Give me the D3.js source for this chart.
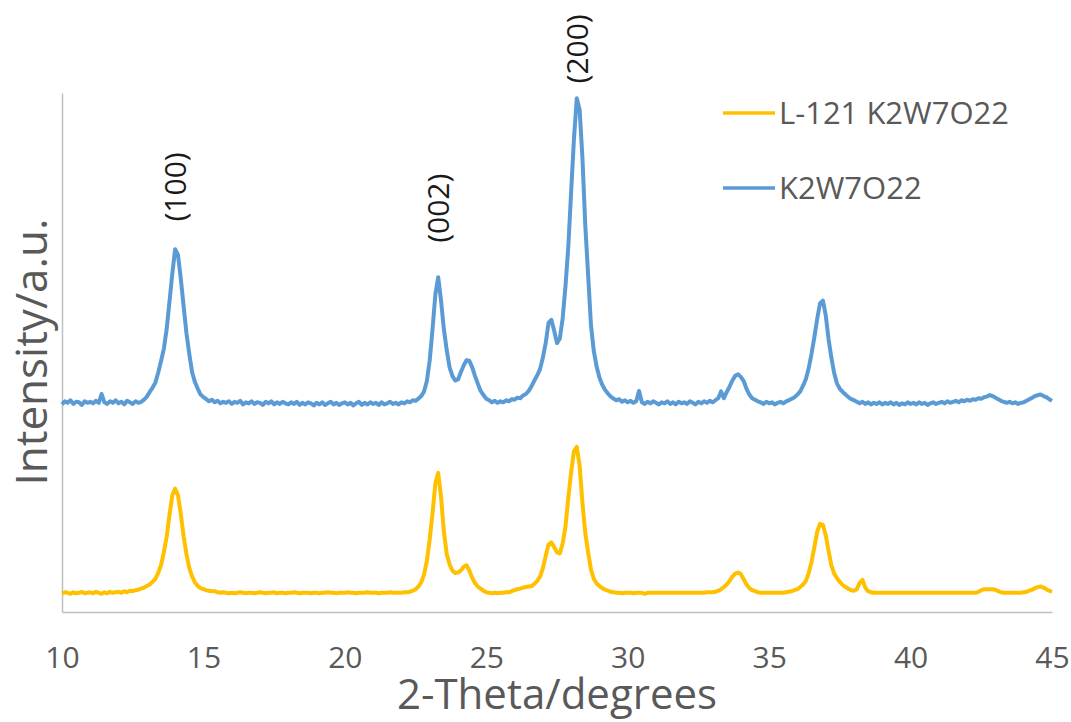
<!DOCTYPE html>
<meta charset="utf-8">
<head>
  <title>XRD patterns</title>
</head>

<style>
  body {
    margin: 0;
    background: #fff;
    font-family: "Open Sans", "Liberation Sans", sans-serif;
  }
  .axis path { stroke: #bfbfbf; stroke-width: 1.5px; }
  .axis text { font-family: "Open Sans", sans-serif; font-size: 30px; fill: #595959; }
</style>

<body>
<svg id="chart" width="1071" height="722"></svg>

<script src="https://cdnjs.cloudflare.com/ajax/libs/d3/7.8.5/d3.min.js"></script>
<script>
  // scan grid: 2-theta from 10 to 45 degrees, one reading every 0.1 degree
  var thetaStart = 10;
  var thetaStep = 0.1;

  var xTicks = [10, 15, 20, 25, 30, 35, 40, 45];

  // K2W7O22 (blue, upper trace)
  var pristineCounts = [
    400, 406, 403, 408, 401, 405, 404, 399, 406, 403,   // 10
    405, 402, 407, 403, 420, 404, 401, 406, 403, 408,   // 11
    402, 405, 400, 407, 404, 401, 406, 403, 405, 409,   // 12
    415, 424, 432, 442, 461, 483, 507, 545, 598, 652,   // 13
    699, 688, 642, 589, 537, 497, 462, 443, 430, 419,   // 14
    414, 410, 406, 409, 404, 407, 402, 405, 403, 406,   // 15
    401, 405, 403, 407, 400, 404, 402, 406, 401, 404,   // 16
    403, 399, 405, 402, 406, 400, 404, 401, 405, 402,   // 17
    400, 404, 401, 405, 399, 403, 400, 404, 402, 398,   // 18
    403, 400, 404, 399, 402, 405, 400, 403, 399, 402,   // 19
    404, 400, 403, 398, 402, 405, 399, 403, 400, 404,   // 20
    401, 403, 399, 404, 400, 402, 405, 401, 403, 400,   // 21
    404, 402, 406, 404, 408, 407, 411, 416, 425, 445,   // 22
    485, 545, 612, 645, 600, 545, 505, 472, 455, 446,   // 23
    448, 462, 475, 485, 484, 472, 455, 440, 426, 418,   // 24
    411, 408, 404, 407, 403, 406, 404, 408, 406, 410,   // 25
    409, 413, 412, 417, 420, 426, 435, 446, 456, 468,   // 26
    490, 518, 557, 563, 542, 518, 527, 566, 628, 704,   // 27
    810, 912, 990, 968, 874, 745, 650, 553, 503, 473,   // 28
    452, 438, 428, 421, 415, 411, 408, 410, 405, 408,   // 29
    404, 407, 403, 406, 426, 404, 401, 405, 402, 406,   // 30
    403, 400, 404, 402, 406, 401, 404, 400, 405, 402,   // 31
    404, 401, 406, 403, 400, 405, 402, 406, 403, 407,   // 32
    404, 408, 412, 425, 412, 424, 434, 446, 455, 458,   // 33
    453, 445, 430, 419, 412, 409, 406, 404, 401, 405,   // 34
    402, 404, 400, 403, 405, 402, 406, 408, 411, 414,   // 35
    419, 425, 436, 449, 470, 498, 530, 565, 595, 600,   // 36
    572, 526, 490, 460, 440, 430, 424, 419, 414, 410,   // 37
    408, 405, 402, 405, 401, 404, 400, 403, 401, 404,   // 38
    400, 403, 401, 404, 400, 403, 399, 402, 400, 404,   // 39
    401, 403, 400, 404, 401, 403, 399, 402, 404, 401,   // 40
    403, 405, 402, 406, 403, 405, 407, 404, 408, 406,   // 41
    409, 407, 410, 409, 412, 411, 414, 415, 418, 416,   // 42
    413, 410, 407, 405, 403, 405, 402, 404, 401, 403,   // 43
    404, 407, 410, 413, 416, 418, 419, 416, 414, 410,   // 44
    407
  ];

  // L-121 K2W7O22 (yellow, lower trace)
  var l121Counts = [
    36, 38, 37, 35, 38, 36, 37, 39, 36, 37,             // 10
    38, 36, 39, 37, 35, 38, 36, 39, 37, 38,             // 11
    39, 37, 40, 38, 41, 40, 42, 43, 45, 47,             // 12
    50, 53, 58, 64, 75, 90, 115, 145, 187, 225,         // 13
    238, 225, 189, 146, 111, 85, 68, 57, 50, 46,        // 14
    44, 42, 41, 40, 40, 38, 37, 38, 37, 36,             // 15
    37, 36, 37, 38, 37, 36, 37, 37, 36, 37,             // 16
    38, 37, 36, 37, 37, 38, 36, 37, 37, 36,             // 17
    37, 37, 38, 37, 36, 37, 37, 37, 36, 37,             // 18
    37, 36, 37, 37, 38, 37, 37, 36, 37, 37,             // 19
    37, 38, 37, 37, 36, 37, 37, 37, 38, 37,             // 20
    37, 37, 36, 37, 37, 37, 38, 37, 37, 37,             // 21
    37, 38, 38, 39, 41, 44, 49, 57, 72, 99,             // 22
    140, 190, 248, 268, 222, 155, 112, 92, 80, 75,      // 23
    76, 80, 87, 90, 80, 66, 56, 49, 45, 41,             // 24
    38, 37, 36, 37, 36, 37, 37, 38, 38, 40,             // 25
    42, 44, 45, 47, 48, 49, 50, 54, 60, 68,             // 26
    84, 108, 130, 134, 125, 115, 113, 132, 165, 220,    // 27
    270, 310, 318, 282, 210, 152, 115, 82, 64, 55,      // 28
    50, 46, 43, 41, 39, 38, 37, 37, 36, 37,             // 29
    37, 37, 36, 37, 37, 37, 35, 37, 37, 37,             // 30
    37, 37, 37, 37, 37, 37, 37, 37, 37, 37,             // 31
    37, 37, 37, 37, 37, 37, 37, 37, 38, 38,             // 32
    38, 39, 41, 44, 48, 53, 60, 68, 74, 76,             // 33
    73, 63, 53, 46, 42, 40, 38, 37, 37, 37,             // 34
    37, 37, 37, 37, 37, 37, 38, 39, 40, 42,             // 35
    44, 48, 53, 60, 75, 97, 125, 155, 170, 168,         // 36
    148, 118, 90, 74, 65, 58, 52, 48, 45, 42,           // 37
    41, 44, 56, 62, 47, 40, 38, 37, 37, 37,             // 38
    37, 37, 37, 37, 37, 37, 37, 37, 37, 37,             // 39
    37, 37, 37, 37, 37, 37, 37, 37, 37, 37,             // 40
    37, 37, 37, 37, 37, 37, 37, 37, 37, 37,             // 41
    37, 37, 37, 37, 39, 42, 44, 44, 44, 44,             // 42
    43, 40, 38, 37, 37, 37, 37, 37, 37, 37,             // 43
    38, 39, 41, 43, 46, 48, 49, 47, 44, 41,             // 44
    39
  ];

  var seriesNames = ["L-121 K2W7O22", "K2W7O22"];
  var seriesColors = ["#ffc000", "#5b9bd5"];

  var peakLabels = ["(100)", "(002)", "(200)"];
  var peakAngles = [14.0, 23.3, 28.2];
  var peakLabelLevels = [819, 778, 1085];

  var svg = d3.select('#chart');

  var x = d3.scaleLinear()
    .domain([10, 45])
    .range([62, 1052]);

  var y = d3.scaleLinear()
    .domain([0, 1000])
    .range([612, 93]);

  var angleOf = function(i) { return thetaStart + i * thetaStep; };

  var line = d3.line()
    .x(function(d, i) { return x(angleOf(i)); })
    .y(function(d) { return y(d); });

  // axes
  svg.append('g')
    .attr('class', 'axis')
    .attr('transform', 'translate(0,612)')
    .call(d3.axisBottom(x).tickValues(xTicks).tickSize(0).tickPadding(35).tickFormat(d3.format('d')))
    .call(function(g) { g.selectAll('text').attr('font-size', null); });

  svg.append('g')
    .attr('class', 'axis')
    .attr('transform', 'translate(62,0)')
    .call(d3.axisLeft(y).tickValues([]).tickSizeOuter(0));

  // traces
  svg.append('path')
    .datum(l121Counts)
    .attr('d', line)
    .attr('fill', 'none')
    .attr('stroke', seriesColors[0])
    .attr('stroke-width', 4)
    .attr('stroke-linejoin', 'round');

  svg.append('path')
    .datum(pristineCounts)
    .attr('d', line)
    .attr('fill', 'none')
    .attr('stroke', seriesColors[1])
    .attr('stroke-width', 4)
    .attr('stroke-linejoin', 'round');

  // peak indices
  svg.selectAll('.peak')
    .data(peakLabels)
    .enter()
    .append('text')
    .attr('class', 'peak')
    .attr('transform', function(d, i) {
      return 'translate(' + (x(peakAngles[i]) + 11) + ',' + y(peakLabelLevels[i]) + ') rotate(-90)';
    })
    .attr('text-anchor', 'middle')
    .attr('font-size', 30)
    .attr('fill', '#1a1a1a')
    .text(function(d) { return d; });

  // legend
  var legend = svg.append('g').attr('transform', 'translate(723,0)');
  var legendRows = [113, 188];
  seriesNames.forEach(function(name, i) {
    legend.append('line')
      .attr('x1', 0).attr('x2', 52)
      .attr('y1', legendRows[i]).attr('y2', legendRows[i])
      .attr('stroke', seriesColors[i])
      .attr('stroke-width', 3.5);
    legend.append('text')
      .attr('x', 56)
      .attr('y', legendRows[i] + 11)
      .attr('font-size', 31)
      .attr('fill', '#595959')
      .text(name);
  });

  // axis titles
  svg.append('text')
    .attr('x', 557)
    .attr('y', 709)
    .attr('text-anchor', 'middle')
    .attr('font-size', 42)
    .attr('fill', '#595959')
    .text('2-Theta/degrees');

  svg.append('text')
    .attr('transform', 'translate(47,352) rotate(-90)')
    .attr('text-anchor', 'middle')
    .attr('font-size', 44)
    .attr('fill', '#595959')
    .text('Intensity/a.u.');
</script>
</body>
</html>
